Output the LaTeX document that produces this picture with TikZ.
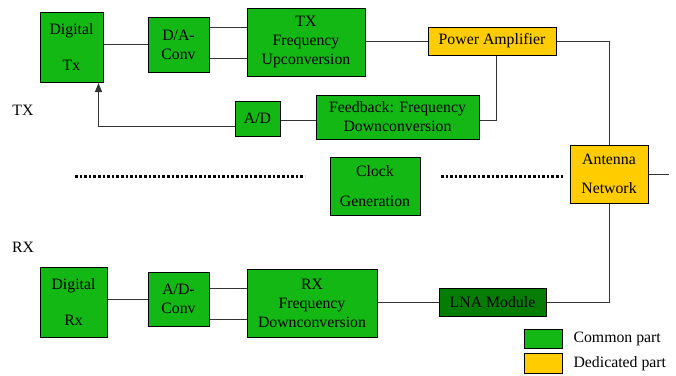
\documentclass[tikz,border=0pt]{standalone}
\usepackage{fontspec}
\setmainfont{Liberation Serif}
\usetikzlibrary{arrows.meta}
\definecolor{cgreen}{RGB}{20,184,20}
\definecolor{lgreen}{RGB}{5,125,5}
\definecolor{dyellow}{RGB}{255,204,0}
\begin{document}
\begin{tikzpicture}[x=1pt,y=-1pt,font=\rmfamily\fontsize{15.8}{19}\selectfont,
		blk/.style={draw,fill=cgreen,line width=1pt,align=center,inner sep=0pt},
		ded/.style={draw,fill=dyellow,line width=1pt,align=center,inner sep=0pt},
		wire/.style={draw=black!80,line width=0.9pt},
		dots/.style={line width=3pt,dash pattern=on 2.6pt off 2pt}]
			\useasboundingbox (0,0) rectangle (676,375);
			
			\node[blk,minimum width=63pt,minimum height=70pt] (dtx) at (71.5,47.5){Digital\\[17pt]Tx};
			\node[blk,minimum width=61pt,minimum height=55pt] (dac) at (178.5,44.5){D/A-\\Conv};
			\node[blk,minimum width=118pt,minimum height=68pt] (txup) at (306,42.5){TX\\Frequency\\Upconversion};
			\node[ded,minimum width=128pt,minimum height=28pt] (pa) at (492,41){Power Amplifier};
			\node[blk,minimum width=45pt,minimum height=35pt] (adfb) at (257.5,118.5){A/D};
			\node[blk,minimum width=163pt,minimum height=44pt] (fb) at (397.5,117){Feedback: Frequency\\Downconversion};
			\node[blk,minimum width=90pt,minimum height=58pt] (clk) at (375,186){Clock\\[11pt]Generation};
			\node[ded,minimum width=78pt,minimum height=58pt] (ant) at (609,174){Antenna\\[10pt]Network};
			
			\node[blk,minimum width=67pt,minimum height=70pt] (drx) at (73.5,302){Digital\\[17pt]Rx};
			\node[blk,minimum width=61pt,minimum height=54pt] (adc) at (178.5,299){A/D-\\Conv};
			\node[blk,minimum width=130pt,minimum height=68pt] (rxdn) at (312,303){RX\\Frequency\\Downconversion};
			\node[blk,fill=lgreen,minimum width=107pt,minimum height=28pt] (lna) at (492.5,302){LNA Module};
			
			\node (txl) at (23,110){TX};
			\node (rxl) at (23,247){RX};
			
			\node[blk,minimum width=38pt,minimum height=19pt] (lgc) at (543,338.5){};
			\node[ded,minimum width=38pt,minimum height=20pt] (lgd) at (543,363){};
			\node[anchor=west] (lgct) at (570,339){Common part};
			\node[anchor=west] (lgdt) at (570,364){Dedicated part};
			
			\coordinate (antout) at (669,176);
			\coordinate (dl1) at (75,176);
			\coordinate (dl2) at (305,176);
			\coordinate (dr1) at (441,176);
			\coordinate (dr2) at (565,176);
			
			% tx chain
			\draw[wire] (dac.west) -- (dac.west -| dtx.east);
			\draw[wire] ([yshift=17pt]dac.east) -- ([yshift=17pt]dac.east -| txup.west);
			\draw[wire] ([yshift=-14pt]dac.east) -- ([yshift=-14pt]dac.east -| txup.west);
			\draw[wire] (pa.west) -- (pa.west -| txup.east);
			\draw[wire] (pa.east) -| (ant.north);
			\draw[wire] ([xshift=4pt]pa.south) |- ([yshift=-3pt]fb.east);
			\draw[wire] ([yshift=-3pt]fb.west) -- ([yshift=-3pt]fb.west -| adfb.east);
			\draw[wire,-{Triangle[length=9pt,width=7pt]}] ([yshift=-8pt]adfb.west) -| ([xshift=-5pt]dtx.south east);
			
			% rx chain
			\draw[wire] (ant.east) -- (ant.east -| antout);
			\draw[wire] (ant.south) |- (lna.east);
			\draw[wire] (lna.west) -- (lna.west -| rxdn.east);
			\draw[wire] ([yshift=11pt]adc.east) -- ([yshift=11pt]adc.east -| rxdn.west);
			\draw[wire] ([yshift=-20pt]adc.east) -- ([yshift=-20pt]adc.east -| rxdn.west);
			\draw[wire] (adc.west) -- (adc.west -| drx.east);
			
			\draw[dots] (dl1) -- (dl2);
			\draw[dots] (dr1) -- (dr2);
		\end{tikzpicture}
\end{document}
